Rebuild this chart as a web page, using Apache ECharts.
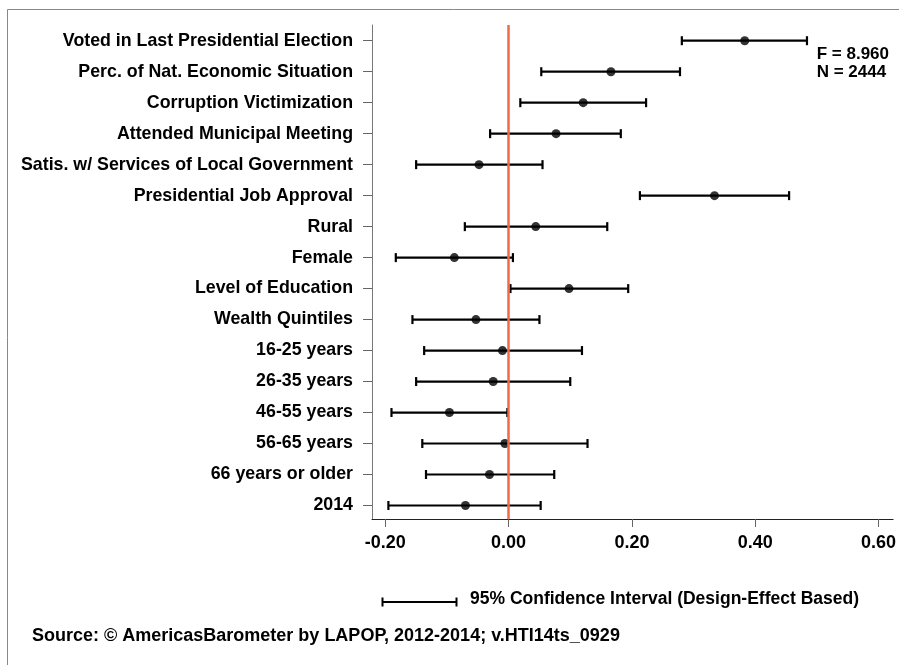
<!DOCTYPE html>
<html>
<head>
<meta charset="utf-8">
<title>Coefficient plot</title>
<script src="https://cdn.jsdelivr.net/npm/echarts@6/dist/echarts.min.js"></script>
<style>
  html, body { margin: 0; padding: 0; background: #fff; }
  .chart_box { width: 899px; height: 665px; }
</style>
</head>
<body>
<div class="chart_box"></div>
<script>
// 变量名称（从上到下）
var categories = [
    'Voted in Last Presidential Election',
    'Perc. of Nat. Economic Situation',
    'Corruption Victimization',
    'Attended Municipal Meeting',
    'Satis. w/ Services of Local Government',
    'Presidential Job Approval',
    'Rural',
    'Female',
    'Level of Education',
    'Wealth Quintiles',
    '16-25 years',
    '26-35 years',
    '46-55 years',
    '56-65 years',
    '66 years or older',
    '2014'
];

// 系数估计值
var estimates = [0.383, 0.166, 0.121, 0.077, -0.048, 0.334, 0.044, -0.088,
    0.098, -0.053, -0.010, -0.025, -0.096, -0.006, -0.031, -0.070];

// 95% 置信区间下限 / 上限
var lower = [0.281, 0.053, 0.019, -0.030, -0.150, 0.213, -0.071, -0.183,
    0.003, -0.156, -0.137, -0.150, -0.190, -0.140, -0.134, -0.195];
var upper = [0.484, 0.278, 0.223, 0.182, 0.055, 0.455, 0.160, 0.007,
    0.194, 0.050, 0.119, 0.100, -0.002, 0.128, 0.074, 0.052];

// x 轴刻度
var xTicks = [-0.2, 0, 0.2, 0.4, 0.6];

var statF = 'F = 8.960';
var statN = 'N = 2444';
var legendText = '95% Confidence Interval (Design-Effect Based)';
var sourceText = 'Source: \u00a9 AmericasBarometer by LAPOP, 2012-2014; v.HTI14ts_0929';

var fontName = '"Liberation Sans", Arial, sans-serif';

var rowIndex = categories.map(function (c, i) { return i; });

var ciData = rowIndex.map(function (i) { return [lower[i], upper[i], i]; });
var pointData = rowIndex.map(function (i) { return [estimates[i], i]; });

// 误差线
function renderCI(params, api) {
    var start = api.coord([api.value(0), api.value(2)]);
    var end = api.coord([api.value(1), api.value(2)]);
    var h = 4.5;
    var style = { stroke: '#000', lineWidth: 2.2 };
    return {
        type: 'group',
        children: [
            { type: 'line', shape: { x1: start[0], y1: start[1], x2: end[0], y2: end[1] }, style: style },
            { type: 'line', shape: { x1: start[0], y1: start[1] - h, x2: start[0], y2: start[1] + h }, style: style },
            { type: 'line', shape: { x1: end[0], y1: end[1] - h, x2: end[0], y2: end[1] + h }, style: style }
        ]
    };
}

var myChart = echarts.init(document.querySelector('.chart_box'));

var option = {
    animation: false,
    backgroundColor: '#fff',
    textStyle: { fontFamily: fontName },
    grid: {
        left: 372,
        right: 5,
        top: 25,
        bottom: 146,
        containLabel: false
    },
    xAxis: {
        type: 'value',
        min: -0.2216,
        max: 0.6237,
        axisLine: { show: true, onZero: false, lineStyle: { color: '#222', width: 1 } },
        axisTick: { show: true, customValues: xTicks, length: 8, lineStyle: { color: '#666' } },
        axisLabel: {
            customValues: xTicks,
            margin: 15,
            color: '#000',
            fontSize: 18,
            fontWeight: 'bold',
            fontFamily: fontName,
            formatter: function (v) { return v.toFixed(2); }
        },
        splitLine: { show: false }
    },
    yAxis: {
        type: 'value',
        inverse: true,
        min: -0.507,
        max: 15.436,
        axisLine: { show: true, onZero: false, lineStyle: { color: '#777', width: 1 } },
        axisTick: { show: true, customValues: rowIndex, length: 9, lineStyle: { color: '#666' } },
        axisLabel: {
            customValues: rowIndex,
            margin: 19,
            color: '#000',
            fontSize: 17.8,
            fontWeight: 'bold',
            fontFamily: fontName,
            formatter: function (v) { return categories[Math.round(v)]; }
        },
        splitLine: { show: false }
    },
    series: [
        {
            name: 'ci',
            type: 'custom',
            renderItem: renderCI,
            data: ciData,
            z: 3,
            markLine: {
                silent: true,
                symbol: 'none',
                label: { show: false },
                lineStyle: { color: '#f06a43', width: 2.5, type: 'solid' },
                data: [{ xAxis: 0 }]
            }
        },
        {
            name: 'estimate',
            type: 'scatter',
            data: pointData,
            symbol: 'circle',
            symbolSize: 9,
            itemStyle: { color: '#000' },
            z: 4
        }
    ],
    graphic: [
        // 外框
        {
            type: 'rect',
            shape: { x: 7.5, y: 9.5, width: 1000, height: 1000 },
            style: { fill: 'none', stroke: '#888', lineWidth: 1 },
            silent: true
        },
        {
            type: 'text',
            right: 10,
            top: 45,
            style: { text: statF + '\n' + statN, align: 'right', fill: '#000', font: 'bold 17px ' + fontName, lineHeight: 18 }
        },
        // 图例
        {
            type: 'group',
            left: 380,
            top: 595,
            children: [
                { type: 'line', shape: { x1: 0, y1: 5, x2: 74, y2: 5 }, style: { stroke: '#000', lineWidth: 2 } },
                { type: 'line', shape: { x1: 0, y1: 0.5, x2: 0, y2: 9.5 }, style: { stroke: '#000', lineWidth: 2 } },
                { type: 'line', shape: { x1: 74, y1: 0.5, x2: 74, y2: 9.5 }, style: { stroke: '#000', lineWidth: 2 } }
            ]
        },
        {
            type: 'text',
            left: 470,
            top: 590,
            style: { text: legendText, fill: '#000', font: 'bold 17.5px ' + fontName }
        },
        {
            type: 'text',
            left: 32,
            top: 627,
            style: { text: sourceText, fill: '#000', font: 'bold 18px ' + fontName }
        }
    ]
};

myChart.setOption(option);
</script>
</body>
</html>
